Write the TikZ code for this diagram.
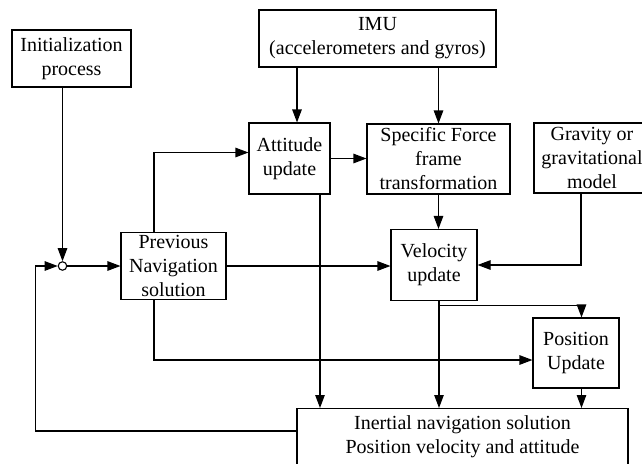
\documentclass[tikz,border=0pt]{standalone}
\usepackage{fontspec}
\setmainfont{Liberation Serif}
\usetikzlibrary{arrows.meta}

\begin{document}
\begin{tikzpicture}[x=1pt, y=-1pt, line width=1.1pt, >={Triangle[length=13pt,width=9.5pt]},
  blk/.style={draw, align=center, inner sep=2pt, font=\fontsize{20}{24}\selectfont}]

\useasboundingbox (0,0) rectangle (642,463);
\clip (0,0) rectangle (642,463);

\node[blk, minimum width=119pt, minimum height=57pt] (init) at (71.5,58.5) {Initialization\\process};
\node[blk, minimum width=237pt, minimum height=57pt] (imu) at (377.5,38.5) {IMU\\(accelerometers and gyros)};
\node[blk, minimum width=81pt, minimum height=71pt] (att) at (289.5,158.5) {Attitude\\update};
\node[blk, minimum width=143pt, minimum height=70pt] (sff) at (438.5,159) {Specific Force\\frame\\transformation};
\node[blk, minimum width=116pt, minimum height=70pt] (grav) at (592,158) {Gravity or\\gravitational\\model};
\node[draw, circle, inner sep=0pt, minimum size=8.5pt] (sum) at (62.5,266) {};
\node[blk, minimum width=105pt, minimum height=67pt] (prev) at (173.5,266) {Previous\\Navigation\\solution};
\node[blk, minimum width=86pt, minimum height=71pt] (vel) at (434,265) {Velocity\\update};
\node[blk, minimum width=86pt, minimum height=70pt] (pos) at (576,353) {Position\\Update};
\node[blk, anchor=north, minimum width=331pt, inner ysep=7pt, text depth=45pt] (ins) at (462.5,408) {Inertial navigation solution\\Position velocity and attitude};

\draw[->] (init.south -| sum) -- (sum.north);
\draw[->] (sum.east) -- (sum.east -| prev.west);
\draw[->] ([xshift=-19.5pt]prev.north) |- ([yshift=6pt]att.west);
\draw[->] (prev.east) -- (prev.east -| vel.west);
\draw[->] ([xshift=-19.5pt]prev.south) |- ([yshift=-7pt]pos.west);

\draw[->] ([xshift=7.5pt]att.north |- imu.south) -- ([xshift=7.5pt]att.north);
\draw[->] (imu.south -| sff.north) -- (sff.north);
\draw[->] (att.east) -- (att.east -| sff.west);
\draw[->] (sff.south) -- (sff.south |- vel.north);
\draw[->] ([xshift=-11pt]grav.south) |- (vel.east);

\draw[->] ([xshift=5pt,yshift=-4pt]vel.south) -| ([xshift=5.5pt]pos.north);
\foreach \src/\dx in {att/30.5, vel/5, pos/5.5}
  \draw[->] ([xshift=\dx pt]\src.south) -- ([xshift=\dx pt]\src.south |- ins.north);

\draw[->] ([yshift=-23pt]ins.north west) -- ++(-261,0) |- (sum.west);

\end{tikzpicture}
\end{document}
